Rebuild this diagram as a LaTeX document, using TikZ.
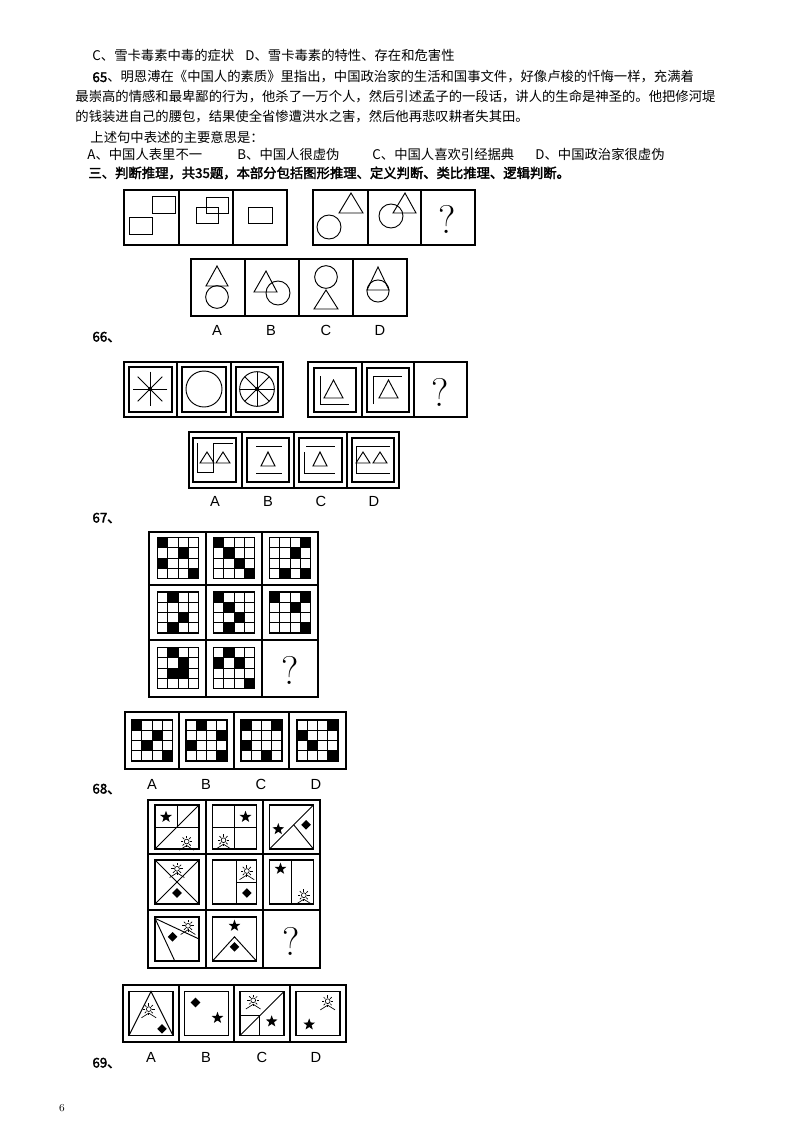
\documentclass[tikz,border=0pt]{standalone}
\usepackage{fontspec}
\usetikzlibrary{calc}
\newfontfamily\cjk[AutoFakeBold=2.5]{Noto Sans CJK SC}
\newfontfamily\lab{Liberation Sans}
\newcommand\starat[1]{\fill ($(#1)+(90:4.6pt)$) -- ($(#1)+(126:1.9pt)$) -- ($(#1)+(162:4.6pt)$) -- ($(#1)+(198:1.9pt)$) -- ($(#1)+(234:4.6pt)$) -- ($(#1)+(270:1.9pt)$) -- ($(#1)+(306:4.6pt)$) -- ($(#1)+(342:1.9pt)$) -- ($(#1)+(18:4.6pt)$) -- ($(#1)+(54:1.9pt)$) -- cycle;}
\newcommand\diamat[1]{\fill ($(#1)+(0,3.6pt)$) -- ($(#1)+(3.6pt,0)$) -- ($(#1)+(0,-3.6pt)$) -- ($(#1)+(-3.6pt,0)$) -- cycle;}
\newcommand\sunat[1]{\draw[line width=0.5pt] (#1) circle[radius=1.8pt];
  \foreach \a in {0,45,...,315} \draw[line width=0.5pt] ($(#1)+(\a:2.6pt)$) -- ($(#1)+(\a:4.3pt)$);
  \draw[line width=0.5pt] ($(#1)+(-5.5pt,-6.5pt)$) -- ($(#1)+(0,-3pt)$) -- ($(#1)+(5.5pt,-6.5pt)$);}
\newcommand\pgrid[3]{\begin{scope}[shift={(#1-20.5,#2-20.5)}]
  \foreach \r/\c in {#3} \fill (\c*10.25-10.25,\r*10.25-10.25) rectangle ++(10.25,10.25);
  \draw[line width=0.9pt] (0,0) rectangle (41,41);
  \foreach \i in {1,2,3} {\draw[line width=0.5pt] (\i*10.25,0)--(\i*10.25,41); \draw[line width=0.5pt] (0,\i*10.25)--(41,\i*10.25);}
  \end{scope}}
\tikzset{
  txt/.style={anchor=west,inner sep=0,font=\cjk\fontsize{10}{12}\selectfont},
  btxt/.style={txt,font=\cjk\bfseries\fontsize{10}{12}\selectfont},
  lbl/.style={inner sep=0,font=\lab\fontsize{11}{12}\selectfont},
  qm/.style={inner sep=0,font=\fontsize{30}{30}\selectfont},
  fr/.style={line width=0.8pt},
  u/.style={x=33pt,y=-33pt},
  ib/.style={line width=0.9pt}
}
\begin{document}
\begin{tikzpicture}[x=0.75pt,y=-0.75pt,line width=0.7pt]
\useasboundingbox[fill=white] (0,0) rectangle (800,1132);
% text
\node[txt] (t1) at (92,55) {C、雪卡毒素中毒的症状};
\node[txt] (t1b) at (245,55) {D、雪卡毒素的特性、存在和危害性};
\node[txt] (t2) at (92,77) {\textbf{65}、明恩溥在《中国人的素质》里指出，中国政治家的生活和国事文件，好像卢梭的忏悔一样，充满着};
\node[txt] (t3) at (75,97) {最崇高的情感和最卑鄙的行为，他杀了一万个人，然后引述孟子的一段话，讲人的生命是神圣的。他把修河堤};
\node[txt] (t4) at (75,117) {的钱装进自己的腰包，结果使全省惨遭洪水之害，然后他再悲叹耕者失其田。};
\node[txt] (t5) at (90,137) {上述句中表述的主要意思是：};
\node[txt] (o1) at (87,154) {A、中国人表里不一};
\node[txt] (o2) at (237,154) {B、中国人很虚伪};
\node[txt] (o3) at (372,154) {C、中国人喜欢引经据典};
\node[txt] (o4) at (535,154) {D、中国政治家很虚伪};
\node[btxt] (t6) at (88,173) {三、判断推理，共35题，本部分包括图形推理、定义判断、类比推理、逻辑判断。};
% ---------- 66
\draw[fr] (124,190) rectangle (287,245); \draw[fr] (179,190)--(179,245); \draw[fr] (233,190)--(233,245);
\draw (129,217) rectangle (152,234); \draw (152,196) rectangle (175,213);
\draw (196,207) rectangle (218,223); \draw (206,197) rectangle (228,213);
\draw (248,207) rectangle (272,223);
\draw[fr] (313,190) rectangle (475,245); \draw[fr] (368,190)--(368,245); \draw[fr] (421,190)--(421,245);
\draw (329,227) circle[radius=9pt]; \draw (339,213)--(363,213)--(351,193)--cycle;
\draw (391,216) circle[radius=9pt]; \draw (393,213)--(416,213)--(405,193)--cycle;
\node[qm] (q1) at (447,219) {?};
\draw[fr] (191,259) rectangle (407,316); \foreach \x in {245,299,353} \draw[fr] (\x,259)--(\x,316);
\draw (206,286)--(228,286)--(217,266)--cycle; \draw (217,297) circle[radius=8.5pt];
\draw (254,292)--(277,292)--(266,271)--cycle; \draw (278,293) circle[radius=9pt];
\draw (326,277) circle[radius=8.5pt]; \draw (314,309)--(338,309)--(326,290)--cycle;
\draw (367,290)--(389,290)--(378,267)--cycle; \draw (378,291) circle[radius=8.3pt];
\node[lbl] (a66) at (217,330) {A}; \node[lbl] (b66) at (271,330) {B}; \node[lbl] (c66) at (326,330) {C}; \node[lbl] (d66) at (380,330) {D};
\node[btxt] (n66) at (92,337) {66、};
% ---------- 67
\draw[fr] (124,362) rectangle (283,417); \draw[fr] (177,362)--(177,417); \draw[fr] (231,362)--(231,417);
\draw[ib] (129,367) rectangle (172,412); \draw[ib] (182,367) rectangle (226,412); \draw[ib] (236,367) rectangle (278,412);
\foreach \a in {0,45,...,135} \draw (150,389)+(\a:13pt) -- +(\a+180:13pt);
\fill (150,389) circle[radius=1.5pt];
\draw (204,389) circle[radius=13.5pt];
\draw (257,389) circle[radius=13pt]; \foreach \a in {0,45,...,135} \draw (257,389)+(\a:13pt) -- +(\a+180:13pt);
\fill (257,389) circle[radius=1.5pt];
\draw[fr] (308,362) rectangle (467,417); \draw[fr] (362,362)--(362,417); \draw[fr] (414,362)--(414,417);
\draw[ib] (314,368) rectangle (356,412); \draw[ib] (367,368) rectangle (409,412);
\draw (320,376)--(320,404)--(349,404); \draw (324,398)--(343,398)--(333.5,380)--cycle;
\draw (373,404)--(373,376)--(402,376); \draw (379,398)--(398,398)--(388.5,380)--cycle;
\node[qm] (q2) at (440,392) {?};
\draw[fr] (189,432) rectangle (399,488); \foreach \x in {242,294,347} \draw[fr] (\x,432)--(\x,488);
\draw[ib] (193,438) rectangle (236,482); \draw[ib] (247,438) rectangle (289,482); \draw[ib] (299,438) rectangle (342,482); \draw[ib] (352,438) rectangle (394,482);
\draw (197,443)--(197,472)--(213,472)--(213,443)--(233,443);
\draw (200,463)--(214,463)--(207,452)--cycle; \draw (216,463)--(230,463)--(223,452)--cycle;
\draw (256,446)--(282,446); \draw (256,473)--(282,473); \draw (261,466)--(275,466)--(268,452)--cycle;
\draw (306,446)--(335,446); \draw (304,452)--(304,473)--(335,473); \draw (313,466)--(327,466)--(320,452)--cycle;
\draw (356,446)--(390,446); \draw (356,446)--(356,473)--(390,473);
\draw (356,463)--(370,463)--(363,452)--cycle; \draw (373,463)--(387,463)--(380,452)--cycle;
\node[lbl] (a67) at (215,501) {A}; \node[lbl] (b67) at (268,501) {B}; \node[lbl] (c67) at (321,501) {C}; \node[lbl] (d67) at (374,501) {D};
\node[btxt] (n67) at (92,518) {67、};
% ---------- 68
\draw[fr] (149,532) rectangle (318,697); \draw[fr] (206,532)--(206,697); \draw[fr] (262,532)--(262,697);
\draw[fr] (149,585)--(318,585); \draw[fr] (149,640)--(318,640);
\pgrid{178}{558}{1/1,2/3,3/1,4/4}
\pgrid{234}{558}{1/1,2/2,3/3,4/4}
\pgrid{290}{558}{1/4,2/3,4/2,4/4}
\pgrid{178}{612.5}{1/2,3/3,4/2}
\pgrid{234}{612.5}{1/1,2/2,3/3,4/2}
\pgrid{290}{612.5}{1/1,1/4,2/3,4/4}
\pgrid{178}{668}{1/2,2/3,3/2,3/3}
\pgrid{234}{668}{1/2,2/1,2/3,4/4}
\node[qm] (q3) at (290,670) {?};
\draw[fr] (125,712) rectangle (346,769); \foreach \x in {179,234,289} \draw[fr] (\x,712)--(\x,769);
\pgrid{152}{740.5}{1/1,2/3,3/2,4/4}
\pgrid{206.5}{740.5}{1/2,2/4,3/1,4/4}
\pgrid{261.5}{740.5}{1/1,1/4,3/1,4/3}
\pgrid{317.5}{740.5}{1/4,2/1,3/2,4/4}
\node[lbl] (a68) at (152,784) {A}; \node[lbl] (b68) at (206,784) {B}; \node[lbl] (c68) at (261,784) {C}; \node[lbl] (d68) at (316,784) {D};
\node[btxt] (n68) at (92,789) {68、};
% ---------- 69
\draw[fr] (148,800) rectangle (320,968); \draw[fr] (206,800)--(206,968); \draw[fr] (263,800)--(263,968);
\draw[fr] (148,854)--(320,854); \draw[fr] (148,910)--(320,910);
\begin{scope}[shift={(155,805)},u]
 \draw[ib] (0,0) rectangle (1,1); \draw (0.5,0)--(0.5,0.5); \draw (0,0.5)--(1,0.5); \draw (0,1)--(1,0);
 \starat{0.25,0.27} \sunat{0.72,0.83}
\end{scope}
\begin{scope}[shift={(212.5,805)},u]
 \draw[ib] (0,0) rectangle (1,1); \draw (0.5,0)--(0.5,1); \draw (0,0.5)--(1,0.5);
 \starat{0.75,0.27} \sunat{0.25,0.8}
\end{scope}
\begin{scope}[shift={(269.5,805)},u]
 \draw[ib] (0,0) rectangle (1,1); \draw (0,1)--(1,0); \draw (0.55,0.45)--(1,1);
 \starat{0.2,0.55} \diamat{0.83,0.45}
\end{scope}
\begin{scope}[shift={(155,860)},u]
 \draw[ib] (0,0) rectangle (1,1); \draw (0,0)--(1,1); \draw (0,1)--(1,0);
 \sunat{0.5,0.2} \diamat{0.5,0.75}
\end{scope}
\begin{scope}[shift={(212.5,860)},u]
 \draw[ib] (0,0) rectangle (1,1); \draw (0.55,0)--(0.55,1); \draw (0.55,0.52)--(1,0.52);
 \sunat{0.78,0.25} \diamat{0.78,0.75}
\end{scope}
\begin{scope}[shift={(269.5,860)},u]
 \draw[ib] (0,0) rectangle (1,1); \draw (0.5,0)--(0.5,1);
 \starat{0.25,0.2} \sunat{0.78,0.8}
\end{scope}
\begin{scope}[shift={(155,917)},u]
 \draw[ib] (0,0) rectangle (1,1); \draw (0,0.03)--(1,0.5); \draw (0,0.03)--(0.45,1);
 \sunat{0.75,0.2} \diamat{0.4,0.45}
\end{scope}
\begin{scope}[shift={(212.5,917)},u]
 \draw[ib] (0,0) rectangle (1,1); \draw (0,1)--(0.5,0.45)--(1,1);
 \starat{0.5,0.2} \diamat{0.5,0.68}
\end{scope}
\node[qm] (q4) at (291.5,941) {?};
\draw[fr] (123,985) rectangle (346,1042); \foreach \x in {179,234,290} \draw[fr] (\x,985)--(\x,1042);
\begin{scope}[shift={(129,991.5)},u]
 \draw[ib] (0,0) rectangle (1,1); \draw (0,1)--(0.5,0)--(1,1);
 \sunat{0.45,0.4} \diamat{0.75,0.85}
\end{scope}
\begin{scope}[shift={(184.5,991.5)},u]
 \draw[ib] (0,0) rectangle (1,1);
 \diamat{0.25,0.25} \starat{0.75,0.6}
\end{scope}
\begin{scope}[shift={(240,991.5)},u]
 \draw[ib] (0,0) rectangle (1,1); \draw (0,1)--(1,0); \draw (0,0.55)--(0.45,0.55); \draw (0.45,0.55)--(0.45,1);
 \sunat{0.3,0.2} \starat{0.72,0.68}
\end{scope}
\begin{scope}[shift={(296,991.5)},u]
 \draw[ib] (0,0) rectangle (1,1);
 \sunat{0.72,0.22} \starat{0.3,0.75}
\end{scope}
\node[lbl] (a69) at (151,1057) {A}; \node[lbl] (b69) at (206,1057) {B}; \node[lbl] (c69) at (262,1057) {C}; \node[lbl] (d69) at (316,1057) {D};
\node[btxt] (n69) at (92,1063) {69、};
\node[inner sep=0,font=\fontsize{8}{9}\selectfont] (pg) at (62,1108) {6};
\end{tikzpicture}
\end{document}
